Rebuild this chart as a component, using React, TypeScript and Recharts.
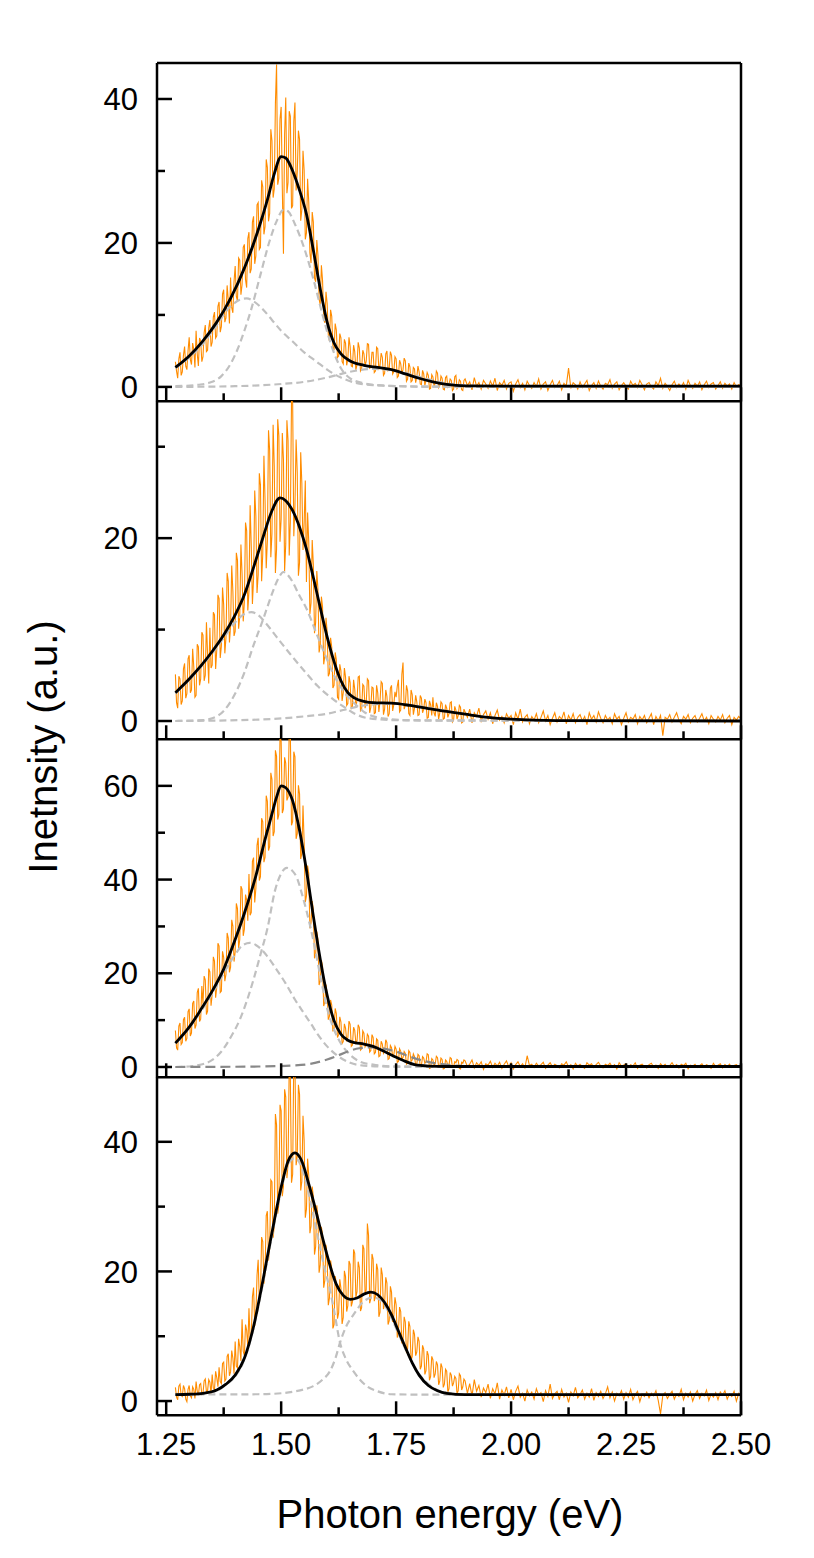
import React from 'react';
import { LineChart, Line, XAxis, YAxis, ReferenceLine } from 'recharts';

const FONT = "'Liberation Sans', Arial, Helvetica, sans-serif";
const ORANGE = '#ff8c00';
const LIGHT = '#c0c0c0';
const DARK = '#888888';

// measured spectra: dense part from 1.27 eV every 0.0025 eV (to 1.8975 eV),
// tail part from 1.90 eV every 0.005 eV (to 2.50 eV)
const HEAD_START = 1.27;
const HEAD_STEP = 0.0025;
const TAIL_START = 1.9;
const TAIL_STEP = 0.005;

const xTicks = [1.25, 1.375, 1.5, 1.625, 1.75, 1.875, 2.0, 2.125, 2.25, 2.375, 2.5];

const spec1Head = [
  3.5, 2.2, 1.2, 3.9, 4.8, 1.6, 2.1, 4.4, 5.6, 2.9, 2.4, 5.0,
  6.9, 3.8, 3.1, 6.1, 5.2, 2.7, 7.8, 4.6, 2.9, 6.8, 6.4, 3.5, 4.2, 7.5, 8.6, 4.9, 5.1, 8.2, 9.3, 5.6,
  6.2, 9.7, 10.4, 6.8, 7.1, 11.2, 11.8, 7.6, 8.4, 12.9, 13.5, 9.0, 9.6, 14.1, 12.1, 8.8, 15.2, 11.0, 10.3, 14.6,
  16.8, 12.6, 11.9, 17.9, 17.6, 12.8, 14.2, 19.4, 19.8, 14.9, 13.8, 20.6, 21.5, 15.8, 16.4, 22.9, 23.7, 17.1, 18.2, 25.3,
  25.6, 19.1, 19.4, 28.7, 27.8, 21.2, 22.3, 31.6, 30.5, 23.0, 24.1, 35.8, 34.2, 26.3, 27.5, 39.4, 44.8, 28.1, 29.0, 37.2,
  38.9, 27.6, 18.5, 35.1, 40.2, 26.9, 28.4, 38.3, 37.6, 24.8, 25.2, 36.9, 39.5, 27.3, 29.8, 35.6, 34.4, 23.1, 24.6, 32.8,
  30.1, 20.5, 21.4, 28.9, 25.7, 18.6, 17.2, 24.3, 22.9, 15.1, 14.6, 20.4, 18.3, 12.2, 11.4, 16.9, 14.8, 9.6, 8.9, 13.2,
  11.6, 7.3, 6.4, 10.7, 9.8, 5.6, 5.1, 8.8, 7.9, 4.1, 4.3, 7.4, 6.8, 3.5, 3.2, 6.6, 6.1, 3.0, 3.9, 6.9,
  5.6, 2.9, 2.8, 5.8, 4.9, 2.4, 3.1, 6.2, 5.4, 2.2, 2.5, 5.1, 4.6, 2.9, 3.6, 6.0, 5.9, 2.6, 2.7, 4.8,
  4.8, 2.0, 2.2, 5.5, 5.3, 2.4, 3.0, 4.7, 4.1, 1.6, 1.9, 4.6, 5.0, 2.3, 2.6, 4.9, 4.4, 1.8, 2.1, 4.2,
  3.9, 1.3, 1.5, 3.7, 3.2, 1.9, 2.4, 4.0, 3.6, 0.8, 1.1, 3.3, 2.8, 0.7, 0.9, 2.7, 2.5, 0.6, 1.4, 2.9,
  2.1, 0.4, 0.3, 2.3, 1.8, 0.2, 0.9, 2.0, 1.6, -0.3, -0.2, 1.7, 1.4, 0.1, 0.5, 2.2, 1.9, -0.1, 0.2, 1.5,
  1.2, -0.3, -0.4, 1.3, 1.5, 0.0, 0.3, 1.1, 0.9, -0.5, -0.3, 1.4, 1.6, -0.2, 0.1, 1.0, 0.8, -0.4, -0.5, 0.9,
];
const spec1Tail = [
  1.1, 0.2, 0.7, -0.4, 1.3, 0.1, 0.6, -0.3, 0.9, 0.4,
  -0.2, 0.8, 0.1, 1.2, -0.5, 0.6, 0.2, 0.9, -0.3, 0.5,
  0.7, -0.6, 0.4, 1.0, -0.1, 0.5, -0.4, 0.8, 0.2, -0.2,
  0.6, 0.0, 1.1, -0.3, 0.4, 0.7, -0.5, 0.3, 0.9, -0.1,
  0.2, 0.8, -0.4, 0.5, 0.1, 2.6, -0.2, 0.6, 0.3, -0.3,
  0.7, -0.1, 0.4, 0.9, -0.5, 0.2, 0.6, -0.2, 0.8, 0.1,
  -0.3, 0.5, 0.3, 1.0, -0.2, 0.4, 0.7, -0.4, 0.2, 0.6,
  0.1, -0.3, 0.8, 0.2, 0.5, -0.1, 0.9, 0.3, -0.4, 0.4,
  0.6, 0.0, -0.3, 0.7, 0.2, 1.2, -0.2, 0.5, 0.1, -0.5,
  0.3, 0.8, -0.1, 0.4, 0.0, 0.6, -0.3, 0.9, 0.2, -0.2,
  0.5, 0.1, 0.7, -0.4, 0.3, 0.8, -0.1, 0.4, 0.6, -0.3,
  0.2, 0.7, -0.2, 0.5, 0.1, 0.4, -0.3, 0.6, 0.0, 0.3, 0.2,
];

const spec2Head = [
  5.1, 2.0, 1.4, 4.9, 4.6, 1.8, 2.2, 5.7, 6.3, 2.5, 3.0, 6.8,
  7.2, 3.1, 3.4, 7.9, 5.9, 2.6, 2.8, 8.4, 8.1, 3.9, 4.6, 9.7, 9.4, 4.4, 5.0, 10.8, 7.3, 4.1, 10.2, 5.8,
  6.1, 11.9, 11.6, 5.7, 7.8, 13.8, 13.4, 6.9, 8.2, 14.6, 12.7, 7.4, 9.1, 16.2, 15.3, 8.6, 10.4, 17.0, 14.2, 9.3,
  9.8, 18.4, 17.6, 10.1, 11.5, 19.3, 16.1, 10.9, 13.0, 21.7, 20.8, 12.1, 14.2, 23.6, 19.1, 12.8, 15.6, 25.2, 22.4, 14.0,
  16.0, 27.1, 25.8, 15.3, 18.3, 29.0, 24.1, 16.7, 19.7, 31.8, 29.6, 17.9, 20.5, 32.4, 27.9, 16.2, 18.8, 33.0, 31.2, 19.6,
  22.1, 31.5, 28.6, 16.4, 19.4, 32.9, 30.7, 18.1, 21.8, 35.0, 34.9, 20.2, 23.5, 30.8, 27.2, 15.9, 17.3, 29.4, 26.0, 18.7,
  21.7, 26.3, 15.2, 22.8, 19.6, 11.7, 12.9, 19.8, 17.1, 9.6, 10.8, 16.4, 14.4, 7.5, 8.3, 13.6, 12.5, 6.2, 7.1, 11.3,
  9.8, 4.9, 5.2, 9.1, 8.1, 3.6, 3.9, 7.5, 6.7, 2.6, 2.4, 6.2, 5.5, 2.2, 3.1, 5.8, 4.8, 1.7, 1.9, 4.9,
  4.2, 1.3, 1.6, 4.5, 3.5, 1.5, 2.3, 4.8, 4.9, 1.1, 1.2, 4.0, 3.8, 1.4, 2.0, 4.6, 4.4, 0.9, 1.5, 3.7,
  3.6, 0.8, 0.9, 3.9, 3.1, 1.0, 2.2, 4.3, 4.1, 0.7, 1.3, 3.4, 2.7, 0.5, 0.8, 3.6, 3.9, 1.1, 1.8, 3.2,
  2.6, 3.8, 4.5, 1.0, 1.2, 5.1, 6.4, 1.3, 1.7, 3.9, 3.3, 0.8, 0.6, 3.4, 2.9, 0.7, 1.4, 2.8, 2.1, 0.6,
  0.7, 2.8, 2.5, 0.9, 1.3, 2.4, 2.0, 0.3, 0.4, 2.2, 1.8, 0.6, 2.6, 0.9, 0.5, 2.0, 1.6, 0.2, 0.9, 2.1,
  1.9, 0.2, 0.3, 1.8, 1.4, 0.4, 0.8, 2.0, 2.1, -0.1, 0.1, 1.6, 1.2, 0.2, 0.6, 1.7, 1.5, -0.2, -0.1, 1.3,
];
const spec2Tail = [
  1.0, 0.4, 1.3, -0.2, 0.9, 0.5, 1.4, 0.0, 0.7, 1.1,
  0.2, 0.9, -0.3, 0.6, 1.2, 0.1, 0.5, -0.2, 0.8, 0.3,
  0.6, -0.4, 0.9, 0.2, 1.3, -0.1, 0.4, 0.7, -0.3, 0.5,
  0.1, 0.8, -0.2, 0.4, 1.1, 0.0, 0.6, -0.4, 0.3, 0.9,
  -0.1, 0.5, 0.2, 1.0, -0.3, 0.6, 0.1, 0.8, -0.2, 0.4,
  0.7, 0.0, 0.5, -0.4, 0.9, 0.2, 0.6, -0.1, 1.0, 0.3,
  -0.2, 0.6, 0.1, 0.4, -0.3, 0.8, 0.2, 0.5, -0.4, 0.3,
  0.9, -0.1, 0.4, 0.2, 0.7, -0.3, 0.5, 0.1, 0.6, -0.2,
  0.3, 0.8, -0.4, 0.5, 0.0, 0.6, -1.6, 0.4, 0.2, 0.7,
  -0.1, 0.4, 0.9, 0.1, -0.3, 0.5, 0.2, 0.7, -0.2, 0.3,
  0.6, -0.1, 0.3, 0.8, 0.0, 0.4, -0.3, 0.6, 0.2, -0.1,
  0.5, 0.1, 0.7, -0.2, 0.3, 0.6, -0.4, 0.4, 0.1, 0.5, 0.2,
];

const spec3Head = [
  7.8, 4.1, 3.6, 8.7, 9.4, 4.8, 5.2, 10.1, 10.6, 5.5, 6.1, 11.8,
  12.4, 6.6, 7.3, 13.6, 14.1, 8.2, 9.0, 15.9, 16.8, 9.7, 10.2, 17.3, 13.5, 19.4, 18.6, 11.2, 11.9, 21.0, 20.3, 13.1,
  15.4, 23.5, 22.6, 14.8, 17.1, 26.4, 25.8, 15.9, 16.2, 24.7, 23.4, 18.3, 19.8, 28.6, 27.5, 20.2, 21.3, 31.4, 30.1, 22.5,
  24.6, 34.9, 33.8, 25.3, 27.2, 38.6, 37.9, 28.0, 29.4, 36.8, 35.6, 31.2, 41.2, 32.4, 33.0, 43.9, 44.7, 35.1, 38.1, 47.3,
  48.9, 39.8, 40.6, 53.1, 52.3, 43.7, 44.8, 57.9, 56.7, 46.2, 47.1, 62.8, 61.4, 49.3, 50.2, 67.6, 66.3, 52.8, 53.9, 70.5,
  69.5, 54.2, 55.1, 66.1, 64.8, 56.9, 57.6, 71.5, 71.0, 51.6, 52.4, 67.3, 66.2, 48.7, 49.8, 60.1, 58.3, 44.4, 45.6, 55.8,
  47.9, 35.2, 36.5, 43.0, 41.3, 29.6, 30.8, 35.4, 33.6, 23.2, 24.1, 28.9, 27.2, 17.5, 18.4, 22.8, 21.5, 13.0, 13.9, 17.6,
  15.6, 10.1, 10.8, 14.3, 13.2, 7.6, 8.1, 12.5, 11.4, 6.3, 6.9, 10.7, 9.6, 5.0, 5.4, 9.2, 8.3, 5.7, 6.2, 9.8,
  9.1, 4.4, 4.7, 8.5, 7.8, 5.1, 5.6, 9.0, 8.4, 3.6, 3.9, 7.7, 7.2, 4.3, 4.8, 7.0, 6.6, 3.2, 3.5, 6.9,
  6.3, 2.8, 3.1, 6.0, 5.7, 2.2, 2.4, 5.5, 4.9, 2.9, 3.3, 5.8, 5.2, 1.6, 1.8, 4.6, 4.1, 2.3, 2.6, 4.4,
  3.8, 1.0, 1.2, 3.9, 3.4, 1.7, 2.0, 3.3, 2.9, 0.6, 0.8, 3.5, 3.1, 1.2, 1.5, 2.8, 2.2, 0.4, 0.6, 2.7,
  2.4, 0.1, 0.3, 2.2, 1.9, 0.8, 1.1, 2.8, 2.6, -0.3, -0.2, 1.8, 1.5, 0.4, 0.7, 2.3, 2.0, 0.0, 0.2, 1.9,
  1.6, -0.4, -0.3, 1.5, 1.2, 0.3, 0.5, 2.0, 1.8, -0.1, 0.0, 1.1, 0.9, 1.6, 1.4, -0.3, -0.4, 1.0, 0.8, 1.5,
];
const spec3Tail = [
  1.3, 0.1, 0.6, 1.5, -0.2, 0.9, 0.3, 1.1, -0.5, 0.7,
  0.4, 1.2, -0.1, 0.8, 0.2, 1.0, -0.3, 0.6, 1.3, 0.0,
  0.9, -0.4, 0.5, 1.1, 0.1, 0.7, -0.2, 2.4, 0.3, 0.6,
  -0.1, 0.8, 0.2, 0.5, 1.0, -0.3, 0.4, 0.9, 0.0, 0.6,
  0.3, -0.2, 0.7, 0.4, 1.1, 0.0, 0.5, -0.4, 0.8, 0.2,
  0.6, 0.1, -0.3, 0.9, 0.4, 0.7, -0.1, 0.5, 1.0, 0.2,
  -0.2, 0.6, 0.3, 0.8, 0.0, 0.5, -0.4, 0.9, 0.2, 0.4,
  0.7, -0.1, 0.5, 0.2, 0.9, -0.3, 0.4, 0.6, 0.1, -0.2,
  0.5, 0.8, 0.0, 0.4, -0.3, 0.7, 0.2, 0.6, -0.1, 0.3,
  0.9, 0.1, 0.5, -0.2, 0.6, 0.3, 0.8, -0.4, 0.4, 0.2,
  0.6, -0.1, 0.3, 0.7, 0.0, 0.5, 0.2, -0.3, 0.8, 0.1,
  0.4, 0.7, -0.2, 0.5, 0.1, 0.6, -0.1, 0.3, 0.5, 0.0, 0.2,
];

const spec4Head = [
  2.1, 0.6, 0.2, 2.3, 2.6, 0.9, 0.7, 2.4, 1.9, 0.3, -0.1, 1.8,
  2.4, 0.8, 0.5, 2.2, 1.8, 0.4, 3.0, 1.5, 0.9, 2.5, 2.7, 1.0, 1.2, 3.1, 3.4, 1.4, 1.6, 3.3, 2.9, 1.1,
  4.1, 2.0, 1.8, 4.6, 3.6, 2.2, 5.2, 3.0, 2.7, 5.8, 6.0, 3.1, 3.4, 6.9, 7.3, 3.9, 4.5, 7.8, 6.6, 4.2,
  9.2, 5.4, 5.1, 9.6, 8.4, 6.2, 12.6, 7.7, 7.0, 11.8, 10.9, 8.3, 14.3, 9.5, 9.8, 16.1, 17.5, 11.6, 13.2, 19.4,
  21.8, 15.2, 16.4, 25.3, 24.6, 18.1, 19.9, 28.6, 29.3, 21.7, 23.5, 34.1, 33.8, 25.2, 27.1, 44.3, 42.6, 28.9, 30.4, 45.7,
  44.8, 31.6, 33.2, 48.1, 46.9, 34.4, 36.5, 51.8, 49.6, 33.7, 35.0, 53.5, 52.0, 36.4, 37.8, 48.8, 47.3, 32.5, 33.9, 44.0,
  40.2, 28.3, 29.6, 37.4, 34.8, 25.9, 27.0, 33.1, 31.5, 22.6, 23.8, 30.2, 28.4, 19.8, 21.0, 26.9, 25.7, 17.5, 18.6, 24.1,
  22.3, 14.8, 15.9, 21.7, 20.4, 11.2, 11.8, 19.3, 18.1, 12.7, 13.6, 18.8, 17.4, 11.9, 12.9, 20.1, 19.2, 13.8, 14.7, 21.6,
  21.1, 14.6, 15.3, 23.4, 22.8, 16.0, 16.9, 21.5, 20.6, 13.9, 14.4, 24.1, 23.5, 16.5, 17.2, 27.4, 25.6, 15.1, 15.8, 22.7,
  21.9, 15.4, 16.1, 21.2, 20.3, 13.0, 13.7, 20.6, 19.5, 14.2, 15.0, 19.1, 18.2, 11.8, 12.4, 17.7, 16.8, 12.2, 13.1, 16.0,
  14.9, 9.8, 10.6, 14.5, 13.8, 8.9, 9.4, 13.0, 12.2, 7.4, 8.1, 12.3, 11.5, 6.2, 6.9, 11.0, 10.3, 7.0, 7.6, 9.9,
  9.2, 4.9, 5.4, 8.6, 8.0, 4.1, 4.7, 7.7, 7.1, 3.2, 3.8, 6.9, 6.4, 3.6, 4.2, 6.1, 5.6, 2.5, 3.1, 5.8,
  5.2, 2.1, 2.6, 4.9, 4.6, 1.4, 1.9, 4.4, 4.0, 2.3, 2.8, 3.8, 3.5, 1.1, 1.6, 4.2, 3.9, 1.7, 2.2, 3.4,
];
const spec4Tail = [
  3.1, 1.2, 2.7, 0.8, 3.3, 1.5, 2.4, 0.6, 2.0, 1.3,
  2.6, 0.4, 1.9, 1.1, 2.8, 0.3, 1.7, 0.9, 2.2, 0.5,
  1.8, 0.2, 1.5, 2.3, 0.6, 1.2, 0.0, 1.7, 0.8, 1.4,
  0.3, 1.9, 0.9, 1.3, -0.1, 1.6, 0.7, 2.6, 0.4, 1.1,
  1.5, 0.2, 1.8, 0.6, 1.2, -0.2, 1.4, 0.8, 2.1, 0.5,
  1.0, 1.7, 0.3, 1.2, 0.6, 1.9, 0.1, 1.3, 0.7, 1.5,
  0.4, 1.1, 2.2, 0.5, 1.4, 0.0, 1.2, 0.8, 1.6, 0.3,
  1.3, 0.6, 1.8, 0.2, 1.0, 1.5, -0.1, 1.1, 0.7, 1.4,
  0.5, 1.2, 0.8, 1.6, 0.1, -2.0, 0.9, 1.3, 0.4, 1.0,
  1.5, 0.3, 1.1, 0.7, 1.8, 0.2, 1.2, 0.6, 1.4, 0.0,
  1.0, 1.6, 0.4, 1.2, 0.8, 1.7, 0.1, 1.1, 0.6, 1.3,
  0.2, 1.4, 0.9, 1.6, 0.3, 1.1, 0.7, 1.5, 0.0, 1.2, 0.8,
];

// fitted envelopes [energy, intensity]
const fit1 = [[1.27,2.7],[1.30,4.3],[1.33,6.4],[1.36,9.0],[1.39,12.3],[1.42,16.5],[1.45,21.8],[1.47,26.0],[1.485,29.6],[1.50,32.0],[1.51,31.8],[1.525,30.0],[1.54,27.3],[1.555,24.0],[1.57,19.0],[1.585,13.6],[1.60,9.0],[1.615,6.1],[1.63,4.6],[1.65,3.6],[1.68,3.0],[1.71,2.7],[1.74,2.4],[1.77,1.8],[1.80,1.2],[1.83,0.7],[1.86,0.35],[1.90,0.15],[2.0,0.1],[2.5,0.1]];
const fit2 = [[1.27,3.1],[1.30,4.6],[1.325,6.0],[1.35,7.6],[1.375,9.4],[1.40,11.6],[1.42,13.8],[1.44,16.8],[1.46,20.0],[1.48,23.0],[1.4975,24.4],[1.51,24.1],[1.525,23.0],[1.54,21.2],[1.555,18.8],[1.57,15.7],[1.585,12.4],[1.60,9.2],[1.615,6.5],[1.63,4.4],[1.645,3.1],[1.66,2.5],[1.68,2.15],[1.70,2.0],[1.74,1.95],[1.78,1.7],[1.82,1.35],[1.86,1.05],[1.90,0.75],[1.95,0.4],[2.0,0.2],[2.1,0.05],[2.5,0]];
const fit3 = [[1.27,5.1],[1.30,8.5],[1.325,12.2],[1.35,16.2],[1.375,20.9],[1.40,27.2],[1.42,32.8],[1.445,40.8],[1.465,48.6],[1.48,54.0],[1.49,57.6],[1.50,60.0],[1.51,59.6],[1.525,56.8],[1.54,50.5],[1.555,42.0],[1.57,32.2],[1.585,23.0],[1.60,15.3],[1.615,9.9],[1.63,7.0],[1.645,5.7],[1.66,5.2],[1.68,4.9],[1.70,4.4],[1.72,3.5],[1.745,2.3],[1.77,1.2],[1.79,0.5],[1.82,0.2],[1.86,0.1],[2.5,0.1]];
const fit4 = [[1.27,1.0],[1.30,1.05],[1.33,1.2],[1.36,1.7],[1.38,2.6],[1.40,4.0],[1.42,6.6],[1.44,11.5],[1.46,18.5],[1.48,26.0],[1.50,33.0],[1.515,37.0],[1.53,38.3],[1.545,37.0],[1.56,33.5],[1.575,29.5],[1.59,25.2],[1.605,21.2],[1.62,18.0],[1.635,16.3],[1.65,15.7],[1.665,15.9],[1.68,16.5],[1.695,16.8],[1.71,16.4],[1.725,15.2],[1.74,13.3],[1.755,10.8],[1.77,8.3],[1.785,5.9],[1.80,4.0],[1.82,2.4],[1.84,1.6],[1.86,1.2],[1.90,1.0],[2.5,1.0]];

// fitted components [energy, intensity]
const comp1a = [[1.27,2.6],[1.30,4.1],[1.33,6.0],[1.36,8.6],[1.39,11.2],[1.41,12.1],[1.425,12.3],[1.44,11.9],[1.46,10.8],[1.48,9.3],[1.50,7.8],[1.525,6.3],[1.55,4.8],[1.575,3.6],[1.60,2.4],[1.63,1.3],[1.66,0.6],[1.70,0.25],[1.80,0.05],[2.5,0]];
const comp1b = [[1.27,0.1],[1.32,0.3],[1.345,0.6],[1.37,1.5],[1.39,3.2],[1.405,5.2],[1.42,7.8],[1.435,10.8],[1.455,15.6],[1.475,20.3],[1.49,23.0],[1.505,24.6],[1.515,24.4],[1.53,22.6],[1.55,19.3],[1.57,15.0],[1.59,10.0],[1.61,5.6],[1.63,2.6],[1.65,1.2],[1.68,0.5],[1.72,0.2],[1.80,0.05],[2.5,0]];
const comp1c = [[1.27,0],[1.40,0.1],[1.50,0.4],[1.55,0.7],[1.60,1.3],[1.65,2.1],[1.70,2.5],[1.75,2.2],[1.80,1.4],[1.85,0.6],[1.90,0.2],[2.0,0.05],[2.5,0]];

const comp2a = [[1.27,3.0],[1.30,4.5],[1.325,5.9],[1.35,7.4],[1.375,9.1],[1.40,10.8],[1.42,11.7],[1.435,11.9],[1.45,11.6],[1.465,10.8],[1.49,9.2],[1.52,7.3],[1.55,5.5],[1.58,3.8],[1.61,2.5],[1.635,1.6],[1.66,0.8],[1.69,0.3],[1.75,0.1],[2.5,0]];
const comp2b = [[1.27,0],[1.33,0.1],[1.35,0.3],[1.375,1.1],[1.40,3.0],[1.42,5.3],[1.44,8.3],[1.46,11.0],[1.48,13.9],[1.495,15.7],[1.505,16.3],[1.52,15.6],[1.54,13.7],[1.556,12.2],[1.575,9.8],[1.595,7.3],[1.615,5.0],[1.635,3.3],[1.66,1.9],[1.68,1.0],[1.72,0.3],[1.80,0.05],[2.5,0]];
const comp2c = [[1.27,0],[1.45,0.15],[1.55,0.5],[1.60,0.8],[1.635,1.2],[1.68,1.7],[1.74,1.9],[1.80,1.6],[1.86,1.1],[1.92,0.6],[2.0,0.2],[2.1,0.05],[2.5,0]];

const comp3a = [[1.27,5.0],[1.30,8.3],[1.325,11.8],[1.35,15.6],[1.375,20.0],[1.40,24.0],[1.415,25.9],[1.432,26.5],[1.45,25.7],[1.47,23.6],[1.49,20.8],[1.51,17.8],[1.53,14.4],[1.55,11.4],[1.565,9.2],[1.58,6.9],[1.60,4.4],[1.62,2.6],[1.635,1.6],[1.65,0.9],[1.67,0.4],[1.72,0.1],[2.5,0]];
const comp3b = [[1.27,0],[1.30,0.1],[1.32,0.4],[1.345,1.2],[1.37,3.3],[1.39,6.3],[1.41,10.1],[1.425,14.0],[1.44,18.7],[1.455,24.0],[1.47,29.5],[1.487,37.8],[1.50,41.3],[1.512,42.5],[1.525,41.8],[1.535,40.2],[1.545,37.0],[1.556,33.0],[1.57,27.0],[1.585,19.5],[1.60,12.5],[1.615,8.0],[1.63,5.0],[1.65,2.6],[1.67,1.2],[1.70,0.5],[1.75,0.1],[2.5,0]];
const comp3c = [[1.27,0],[1.45,0.1],[1.52,0.3],[1.56,0.6],[1.60,1.6],[1.62,2.3],[1.645,3.3],[1.67,4.0],[1.70,4.2],[1.72,4.0],[1.75,3.3],[1.78,2.2],[1.81,1.3],[1.85,0.6],[1.90,0.2],[2.0,0.05],[2.5,0]];

const comp4a = [[1.27,1.0],[1.33,1.15],[1.36,1.6],[1.38,2.5],[1.40,3.8],[1.42,6.4],[1.44,11.2],[1.46,18.0],[1.48,25.5],[1.50,32.5],[1.515,36.5],[1.53,37.5],[1.545,36.0],[1.56,32.0],[1.572,28.0],[1.584,23.9],[1.595,20.3],[1.606,17.2],[1.615,14.0],[1.628,9.0],[1.64,6.6],[1.657,4.6],[1.67,3.4],[1.686,2.3],[1.71,1.5],[1.74,1.05],[1.80,1.0],[2.5,1.0]];
const comp4b = [[1.27,1.0],[1.45,1.05],[1.50,1.2],[1.53,1.5],[1.55,1.8],[1.57,2.3],[1.59,3.3],[1.606,4.6],[1.618,6.6],[1.628,9.0],[1.64,11.3],[1.657,13.3],[1.68,15.4],[1.70,16.0],[1.72,15.3],[1.74,12.8],[1.76,9.6],[1.78,6.6],[1.80,4.2],[1.82,2.6],[1.84,1.7],[1.87,1.2],[1.90,1.05],[2.5,1.0]];

const yDomain1 = [-2, 45];
const yDomain2 = [-2, 35];
const yDomain3 = [-2.2, 70];
const yDomain4 = [-2.2, 50];
const yTicks1 = [0, 10, 20, 30, 40];
const yTicks2 = [0, 10, 20, 30];
const yTicks3 = [0, 10, 20, 30, 40, 50, 60];
const yTicks4 = [0, 10, 20, 30, 40];

const toSpectrum = (head: number[], tail: number[]) => [
  ...head.map((y, i) => ({ x: Math.round((HEAD_START + i * HEAD_STEP) * 10000) / 10000, y })),
  ...tail.map((y, i) => ({ x: Math.round((TAIL_START + i * TAIL_STEP) * 10000) / 10000, y })),
];
const toCurve = (pts: number[][]) => pts.map(([x, y]) => ({ x, y }));

const PLOT_TOPS = [62.5, 400.8, 739.1, 1077.4];
const PLOT_H = 338.3;
const M = 12;

const panels = [
  { head: spec1Head, tail: spec1Tail, fit: fit1, comps: [[comp1a, false], [comp1b, false], [comp1c, false]], domain: yDomain1, ticks: yTicks1, top: true, labels: false },
  { head: spec2Head, tail: spec2Tail, fit: fit2, comps: [[comp2a, false], [comp2b, false], [comp2c, false]], domain: yDomain2, ticks: yTicks2, top: false, labels: false },
  { head: spec3Head, tail: spec3Tail, fit: fit3, comps: [[comp3a, false], [comp3b, false], [comp3c, true]], domain: yDomain3, ticks: yTicks3, top: false, labels: false },
  { head: spec4Head, tail: spec4Tail, fit: fit4, comps: [[comp4a, false], [comp4b, false]], domain: yDomain4, ticks: yTicks4, top: false, labels: true },
];

const XTick = (props: any) => {
  const { x, y, payload, showLabel } = props;
  const v = payload.value as number;
  const major = Math.abs(v * 4 - Math.round(v * 4)) < 1e-6;
  return (
    <g>
      <line x1={x} x2={x} y1={y} y2={y - (major ? 14 : 8)} stroke="#000" strokeWidth={2.5} />
      {showLabel && major ? (
        <text x={x} y={y + 40} textAnchor="middle" fontSize={31} fontFamily={FONT} fill="#000">
          {v.toFixed(2)}
        </text>
      ) : null}
    </g>
  );
};

const YTick = (props: any) => {
  const { x, y, payload } = props;
  const v = payload.value as number;
  const major = v % 20 === 0;
  return (
    <g>
      <line x1={x} x2={x + (major ? 15 : 8)} y1={y} y2={y} stroke="#000" strokeWidth={2.5} />
      {major ? (
        <text x={x - 19} y={y} dy="0.36em" textAnchor="end" fontSize={31} fontFamily={FONT} fill="#000">
          {v}
        </text>
      ) : null}
    </g>
  );
};

const axisLine = { stroke: '#000', strokeWidth: 2.5 };

export default function App() {
  return (
    <div style={{ position: 'absolute', left: 0, top: 0, width: 814, height: 1558, background: '#fff' }}>
      {panels.map((p, k) => {
        const xh = p.labels ? 70 : M;
        return (
          <div key={k} style={{ position: 'absolute', left: 0, top: PLOT_TOPS[k] - M }}>
            <LineChart width={814} height={PLOT_H + M + xh} margin={{ top: M, right: 73, bottom: 0, left: 0 }}>
              <XAxis
                type="number"
                dataKey="x"
                domain={[1.23, 2.5]}
                ticks={xTicks}
                interval={0}
                allowDataOverflow
                height={xh}
                tickSize={0}
                tickMargin={0}
                tickLine={false}
                axisLine={axisLine}
                tick={(tp: any) => <XTick {...tp} showLabel={p.labels} />}
              />
              <YAxis
                type="number"
                dataKey="y"
                domain={p.domain}
                ticks={p.ticks}
                interval={0}
                allowDataOverflow
                width={157}
                tickSize={0}
                tickMargin={0}
                tickLine={false}
                axisLine={axisLine}
                tick={(tp: any) => <YTick {...tp} />}
              />
              <Line
                data={toSpectrum(p.head, p.tail)}
                dataKey="y"
                type="linear"
                stroke={ORANGE}
                strokeWidth={1.1}
                dot={false}
                activeDot={false}
                isAnimationActive={false}
              />
              {p.comps.map(([c, dark], j) => (
                <Line
                  key={j}
                  data={toCurve(c as number[][])}
                  dataKey="y"
                  type="monotone"
                  stroke={dark ? DARK : LIGHT}
                  strokeWidth={2.2}
                  strokeDasharray={dark ? '10 5' : '7 4'}
                  dot={false}
                  activeDot={false}
                  isAnimationActive={false}
                />
              ))}
              <Line
                data={toCurve(p.fit)}
                dataKey="y"
                type="monotone"
                stroke="#000"
                strokeWidth={2.8}
                dot={false}
                activeDot={false}
                isAnimationActive={false}
              />
              <ReferenceLine x={2.5} stroke="#000" strokeWidth={2.5} />
              {p.top ? <ReferenceLine y={p.domain[1]} stroke="#000" strokeWidth={2.5} /> : null}
            </LineChart>
          </div>
        );
      })}
      <svg width={814} height={1558} style={{ position: 'absolute', left: 0, top: 0, pointerEvents: 'none' }}>
        <text x={450} y={1528} textAnchor="middle" fontSize={40} fontFamily={FONT} fill="#000">
          Photon energy (eV)
        </text>
        <text transform="translate(57,747) rotate(-90)" textAnchor="middle" fontSize={40} fontFamily={FONT} fill="#000">
          Inetnsity (a.u.)
        </text>
      </svg>
    </div>
  );
}
